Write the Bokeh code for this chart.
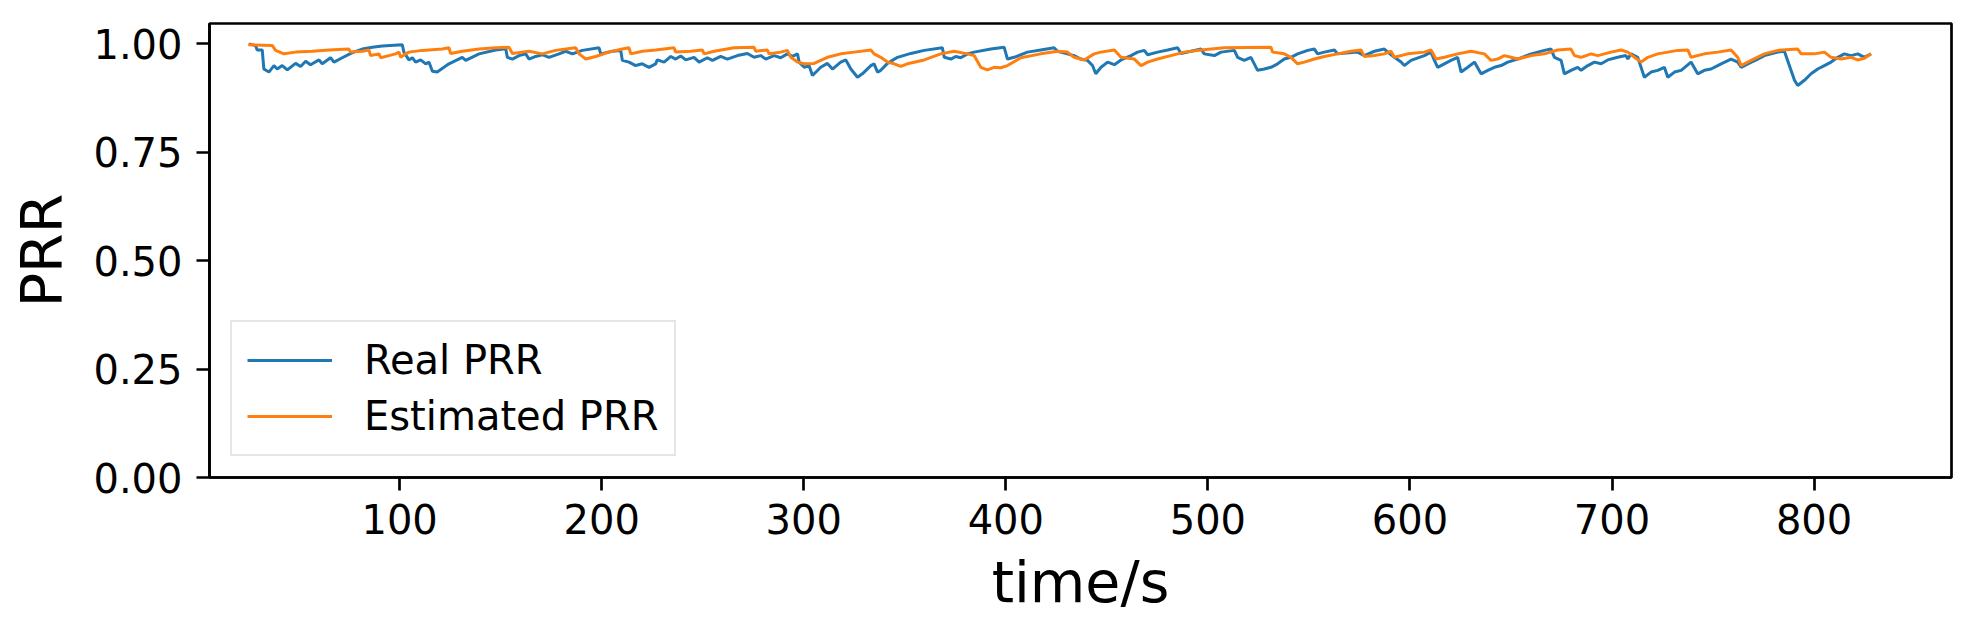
from bokeh.plotting import figure
from bokeh.models import Range1d, Legend, LegendItem, FixedTicker, NumeralTickFormatter
from bokeh.embed import file_html
from bokeh.resources import INLINE

# ---- data ----
real_t = [25.4, 28.7, 29.5, 32.0, 32.8, 35.3, 37.8, 39.4, 41.9, 44.4, 48.5, 51.0, 53.5, 55.9,
          60.1, 61.7, 65.8, 67.5, 71.6, 76.6, 81.5, 86.5, 91.4, 101.3, 102.1, 104.6, 106.3,
          107.9, 110.4, 112.9, 114.5, 116.2, 118.6, 124.4, 131.0, 132.7, 139.3, 147.5, 152.5,
          153.3, 155.8, 159.1, 162.4, 164.0, 167.3, 170.6, 173.9, 178.9, 182.2, 185.5, 190.4,
          198.7, 199.5, 205.3, 209.4, 210.2, 213.5, 216.8, 220.1, 223.4, 226.7,
          227.5, 230.9, 234.2, 236.6, 239.1, 241.6, 245.7, 248.2, 252.3, 254.8, 258.9, 262.2,
          267.2, 272.1, 275.4, 278.7, 281.2, 285.3, 288.6, 291.9, 294.4, 296.9, 297.7, 300.2,
          302.6, 304.3, 308.4, 311.7, 314.2, 318.3, 320.8, 323.3, 326.6, 329.0, 333.2, 334.8,
          336.5, 338.1, 341.4, 346.4, 353.0, 359.6, 368.6, 369.5, 372.8, 375.2, 377.7, 381.0,
          384.3, 392.6, 399.2, 400.8, 404.1, 410.7, 417.3, 423.9, 425.6, 433.8, 437.1, 440.4,
          442.9, 444.5, 447.1, 450.4, 453.7, 457.0, 461.9, 465.2, 468.5, 470.2, 475.1, 480.1,
          485.0, 486.7, 491.6, 496.6, 498.2, 503.2, 506.5, 513.1, 514.7, 518.0, 521.3, 524.6,
          527.9, 531.2, 534.5, 537.8, 541.1, 544.4, 549.4, 552.7, 554.3, 557.6, 562.6, 564.2,
          574.1, 577.4, 582.4, 587.3, 589.0, 592.3, 595.6, 597.2, 600.5, 607.1, 610.4, 612.1,
          613.7, 617.0, 620.3, 623.6, 625.3, 628.6, 631.9, 635.2, 638.5, 641.8, 645.1, 648.4,
          653.3, 660.0, 666.5, 669.8, 671.5, 674.8, 676.4, 679.7, 683.0, 684.7, 688.0, 691.3,
          694.6, 697.9, 702.8, 706.9, 707.8, 709.4, 712.7, 716.0, 719.3, 722.6, 725.9, 727.6,
          730.9, 734.2, 739.1, 742.4, 745.7, 749.0, 754.0, 758.9, 762.2, 763.9, 767.2, 772.1,
          775.4, 782.0, 785.3, 790.3, 791.9, 795.2, 798.5, 801.8, 805.1, 808.4, 811.7, 815.0,
          818.3, 821.6, 824.9, 828.2]
real_prr = [1.000, 0.996, 0.986, 0.986, 0.942, 0.935, 0.950, 0.942, 0.950, 0.940, 0.955, 0.948, 0.960, 0.952,
            0.963, 0.954, 0.968, 0.958, 0.968, 0.980, 0.988, 0.992, 0.995, 0.998, 0.981, 0.963, 0.968,
            0.958, 0.963, 0.954, 0.958, 0.937, 0.935, 0.954, 0.969, 0.962, 0.977, 0.986, 0.989,
            0.969, 0.965, 0.973, 0.977, 0.965, 0.971, 0.975, 0.969, 0.977, 0.983, 0.977, 0.985,
            0.991, 0.977, 0.983, 0.985, 0.962, 0.958, 0.950, 0.954, 0.946, 0.954,
            0.963, 0.958, 0.971, 0.965, 0.972, 0.963, 0.969, 0.958, 0.968, 0.962, 0.971, 0.965,
            0.973, 0.978, 0.969, 0.973, 0.965, 0.973, 0.968, 0.977, 0.971, 0.977, 0.958, 0.946,
            0.950, 0.927, 0.946, 0.955, 0.942, 0.958, 0.963, 0.942, 0.923, 0.931, 0.950, 0.954,
            0.935, 0.939, 0.955, 0.969, 0.978, 0.985, 0.991, 0.969, 0.965, 0.971, 0.968, 0.977,
            0.981, 0.988, 0.992, 0.965, 0.969, 0.981, 0.986, 0.991, 0.983, 0.973, 0.965, 0.962,
            0.950, 0.931, 0.946, 0.958, 0.952, 0.963, 0.973, 0.981, 0.985, 0.975, 0.981, 0.986,
            0.991, 0.978, 0.983, 0.988, 0.977, 0.973, 0.981, 0.985, 0.969, 0.962, 0.969, 0.939,
            0.942, 0.946, 0.954, 0.965, 0.969, 0.977, 0.985, 0.988, 0.977, 0.981, 0.986, 0.977,
            0.981, 0.973, 0.983, 0.988, 0.981, 0.969, 0.958, 0.950, 0.962, 0.973, 0.981, 0.962,
            0.946, 0.954, 0.962, 0.969, 0.935, 0.946, 0.958, 0.931, 0.939, 0.946, 0.950, 0.958,
            0.965, 0.977, 0.985, 0.988, 0.969, 0.962, 0.931, 0.939, 0.946, 0.939, 0.950, 0.958,
            0.954, 0.963, 0.969, 0.973, 0.965, 0.977, 0.969, 0.923, 0.935, 0.939, 0.946, 0.923,
            0.935, 0.939, 0.958, 0.931, 0.939, 0.942, 0.954, 0.965, 0.958, 0.946, 0.954, 0.965,
            0.973, 0.981, 0.983, 0.916, 0.904, 0.916, 0.931, 0.942, 0.950, 0.958, 0.969, 0.977,
            0.973, 0.977, 0.969, 0.977]

est_t = [25.1, 37.0, 38.6, 42.7, 48.5, 56.8, 65.0, 74.9, 75.7, 81.5, 84.8, 85.6, 89.8, 90.6,
         94.7, 98.0, 99.7, 100.5, 103.0, 104.6, 111.2, 121.1, 124.4, 125.2, 131.0, 139.3, 147.5,
         154.1, 155.8, 160.7, 164.0, 170.6, 177.2, 182.2, 187.1, 188.8, 192.1, 197.0, 203.6,
         210.2, 213.5, 214.4, 220.1, 226.7,
         235.8, 236.6, 244.1, 249.8, 250.7, 255.6, 265.5, 275.4, 276.2, 282.0, 282.8, 288.6,
         291.9, 293.6, 296.9, 300.2, 305.1, 308.4, 311.7, 318.3, 324.9, 333.2, 334.8, 338.1,
         341.4, 344.7, 348.0, 351.3, 359.6, 367.8, 374.4, 381.0, 384.3, 387.6, 390.9, 394.2,
         397.5, 400.8, 407.4, 417.3, 425.6, 430.5, 433.8, 438.8, 443.7, 447.0,
         453.7, 457.0, 463.6, 466.9, 470.2, 475.1, 481.7, 488.3, 496.6, 508.1, 531.2, 532.0,
         537.8, 541.1, 544.4, 547.7, 552.7, 557.6, 564.2, 570.8, 575.8, 577.4, 582.4, 587.3,
         590.6, 592.3, 598.9, 607.1, 610.4, 612.9, 617.0, 623.6, 630.2, 636.8, 640.1, 643.4,
         646.7, 650.0, 653.3, 660.0, 666.5, 673.1, 679.7, 681.4, 684.7, 689.6, 692.9, 699.5,
         704.5, 707.8, 711.1, 714.4, 717.7, 722.6, 727.6, 732.5, 737.5, 739.1, 745.7, 752.3,
         758.9, 762.2, 763.9, 768.8, 775.4, 782.0, 791.9, 793.6, 800.2, 805.1, 808.4, 813.4,
         818.3, 821.6, 824.9, 828.2]
est_prr = [0.998, 0.996, 0.985, 0.977, 0.981, 0.983, 0.986, 0.988, 0.981, 0.983, 0.986, 0.973, 0.977, 0.968,
           0.973, 0.977, 0.981, 0.969, 0.977, 0.981, 0.985, 0.988, 0.991, 0.978, 0.983, 0.988, 0.991,
           0.992, 0.978, 0.981, 0.983, 0.977, 0.985, 0.988, 0.991, 0.977, 0.965, 0.971, 0.981,
           0.988, 0.991, 0.977, 0.983, 0.986,
           0.991, 0.981, 0.983, 0.986, 0.977, 0.983, 0.991, 0.992, 0.983, 0.986, 0.977, 0.981,
           0.985, 0.969, 0.958, 0.954, 0.955, 0.962, 0.969, 0.977, 0.981, 0.986, 0.977, 0.969,
           0.958, 0.954, 0.948, 0.954, 0.963, 0.977, 0.983, 0.977, 0.973, 0.946, 0.940, 0.946,
           0.945, 0.950, 0.968, 0.977, 0.983, 0.981, 0.969, 0.963, 0.977, 0.981,
           0.986, 0.969, 0.965, 0.950, 0.958, 0.965, 0.973, 0.981, 0.986, 0.991, 0.992, 0.981,
           0.977, 0.969, 0.954, 0.958, 0.965, 0.971, 0.977, 0.983, 0.986, 0.971, 0.973, 0.977,
           0.983, 0.969, 0.977, 0.981, 0.986, 0.965, 0.969, 0.977, 0.983, 0.977, 0.962, 0.965,
           0.973, 0.969, 0.965, 0.973, 0.977, 0.986, 0.988, 0.973, 0.969, 0.977, 0.973, 0.981,
           0.986, 0.981, 0.969, 0.958, 0.969, 0.977, 0.981, 0.985, 0.986, 0.969, 0.977, 0.981,
           0.986, 0.969, 0.950, 0.962, 0.977, 0.985, 0.988, 0.977, 0.977, 0.981, 0.969, 0.965,
           0.969, 0.963, 0.967, 0.977]

x_ticks = [100, 200, 300, 400, 500, 600, 700, 800]
y_ticks = [0.0, 0.25, 0.5, 0.75, 1.0]

FONT = "DejaVu Sans"
BLUE = "#1f77b4"
ORANGE = "#ff7f0e"

p = figure(width=1961, height=620, output_backend="svg", toolbar_location=None,
           x_range=Range1d(5.9, 868), y_range=Range1d(0, 1.047),
           min_border_left=209, min_border_right=10, min_border_top=23, min_border_bottom=143)

r1 = p.line(real_t, real_prr, line_color=BLUE, line_width=3)
r2 = p.line(est_t, est_prr, line_color=ORANGE, line_width=3)

p.xgrid.visible = False
p.ygrid.visible = False
p.outline_line_color = "black"
p.outline_line_width = 2.7
p.outline_line_alpha = 1.0

for ax in (p.xaxis[0], p.yaxis[0]):
    ax.axis_line_width = 2.7
    ax.axis_line_color = "black"
    ax.major_tick_line_width = 2.7
    ax.major_tick_line_color = "black"
    ax.major_tick_out = 13
    ax.major_tick_in = 0
    ax.minor_tick_line_color = None
    ax.major_label_text_font = FONT
    ax.major_label_text_font_size = "40px"
    ax.major_label_text_color = "black"
    ax.axis_label_text_font = FONT
    ax.axis_label_text_font_size = "57px"
    ax.axis_label_text_font_style = "normal"
    ax.axis_label_text_color = "black"

p.xaxis[0].ticker = FixedTicker(ticks=x_ticks)
p.yaxis[0].ticker = FixedTicker(ticks=y_ticks)
p.yaxis[0].formatter = NumeralTickFormatter(format="0.00")
p.xaxis[0].axis_label = "time/s"
p.yaxis[0].axis_label = "PRR"
p.xaxis[0].major_label_standoff = 13
p.yaxis[0].major_label_standoff = 14
p.xaxis[0].axis_label_standoff = 12
p.yaxis[0].axis_label_standoff = 15

legend = Legend(items=[LegendItem(label="Real PRR", renderers=[r1]),
                       LegendItem(label="Estimated PRR", renderers=[r2])],
                location=(21, 21), margin=0, padding=15, spacing=10,
                glyph_width=85, glyph_height=44, label_height=44, label_standoff=32,
                label_text_font=FONT, label_text_font_size="40px", label_text_color="black",
                border_line_color="#cccccc", border_line_width=2,
                background_fill_color="white", background_fill_alpha=0.8)
p.add_layout(legend, "center")

open("out.html", "w").write(file_html(p, INLINE))
